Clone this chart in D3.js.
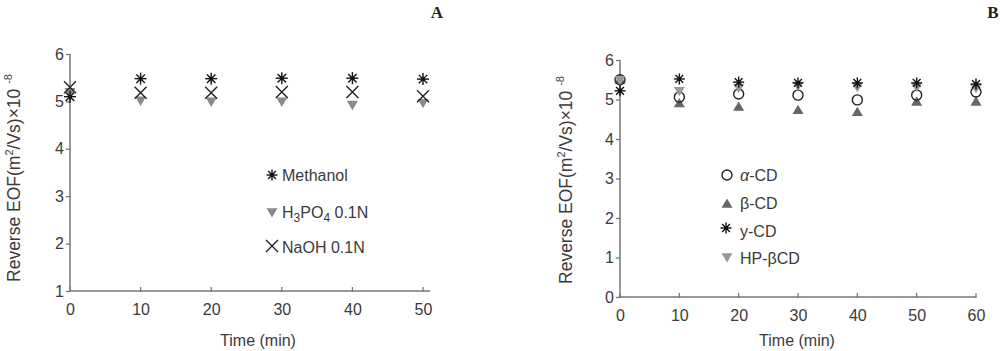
<!DOCTYPE html>
<html><head><meta charset="utf-8">
<script src="https://cdn.jsdelivr.net/npm/d3@7"></script>
<style>body{margin:0;background:#fff}svg{display:block;font-family:"Liberation Sans",Arial,sans-serif}</style>
</head><body><svg id="c" width="1000" height="351"></svg>
<script>
// Panel A data
const timesA = [0, 10, 20, 30, 40, 50];
const methanol = [5.1, 5.48, 5.48, 5.49, 5.49, 5.47];
const h3po4 = [5.2, 5.02, 5.0, 5.0, 4.93, 4.97];
const naoh = [5.3, 5.18, 5.18, 5.2, 5.2, 5.11];
const yTicksA = [1, 2, 3, 4, 5, 6];
const xTicksA = [0, 10, 20, 30, 40, 50];
// Panel B data
const timesB = [0, 10, 20, 30, 40, 50, 60];
const alphaCD = [5.5, 5.06, 5.14, 5.11, 4.99, 5.11, 5.19];
const betaCD = [5.5, 4.9, 4.81, 4.73, 4.68, 4.94, 4.94];
const gammaCD = [5.22, 5.52, 5.44, 5.42, 5.42, 5.42, 5.39];
const hpCD = [5.5, 5.22, 5.3, 5.35, 5.32, 5.32, 5.29];
const yTicksB = [0, 1, 2, 3, 4, 5, 6];
const xTicksB = [0, 10, 20, 30, 40, 50, 60];

const svg = d3.select("#c");
const axisCol = "#777", textCol = "#3a3a3a", grey = "#8a8a8a";

function star(g, x, y, r) {
  const s = g.append("g").attr("transform", `translate(${x},${y})`);
  for (let k = 0; k < 4; k++) {
    const a = k * Math.PI / 4;
    s.append("line").attr("x1", -r * Math.cos(a)).attr("y1", -r * Math.sin(a))
      .attr("x2", r * Math.cos(a)).attr("y2", r * Math.sin(a))
      .attr("stroke", "#111").attr("stroke-width", 1.4);
  }
  s.append("circle").attr("r", 2).attr("fill", "#111");
}
function cross(g, x, y, r) {
  const p = d3.path();
  p.moveTo(x - r, y - r); p.lineTo(x + r, y + r);
  p.moveTo(x + r, y - r); p.lineTo(x - r, y + r);
  g.append("path").attr("d", p.toString()).attr("stroke", "#222").attr("stroke-width", 1.4).attr("fill", "none");
}
function tri(g, x, y, r, down, col) {
  const p = d3.path();
  const s = down ? 1 : -1;
  p.moveTo(x - r, y - s * r * 0.7); p.lineTo(x + r, y - s * r * 0.7); p.lineTo(x, y + s * r); p.closePath();
  g.append("path").attr("d", p.toString()).attr("fill", col);
}
function circ(g, x, y, r) {
  g.append("circle").attr("cx", x).attr("cy", y).attr("r", r).attr("fill", "none").attr("stroke", "#222").attr("stroke-width", 1.4);
}

function axes(x, y, xTicks, yTicks, x0, x1, y0, y1) {
  const g = svg.append("g");
  const gx = g.append("g").attr("transform", `translate(0,${y0})`)
    .call(d3.axisBottom(x).tickValues(xTicks).tickFormat(d3.format("d")).tickSize(0).tickPadding(13));
  gx.select(".domain").remove();
  g.append("line").attr("x1", x0).attr("x2", x1).attr("y1", y0).attr("y2", y0).attr("stroke", axisCol).attr("stroke-width", 1.5);
  xTicks.forEach(t => g.append("line").attr("x1", x(t)).attr("x2", x(t)).attr("y1", y0 - 4).attr("y2", y0 + 1).attr("stroke", axisCol).attr("stroke-width", 1.3));
  const gy = g.append("g").attr("transform", `translate(${x0},0)`)
    .call(d3.axisLeft(y).tickValues(yTicks).tickFormat(d3.format("d")).tickSize(4).tickPadding(2));
  gy.select(".domain").remove();
  gy.selectAll(".tick line").attr("stroke", axisCol).attr("stroke-width", 1.3);
  g.append("line").attr("x1", x0).attr("x2", x0).attr("y1", y1).attr("y2", y0).attr("stroke", axisCol).attr("stroke-width", 1.5);
  g.selectAll(".tick text").attr("font-size", 16).attr("fill", textCol).attr("font-family", "Liberation Sans, Arial, sans-serif");
  return g;
}

function ylabel(x, y) {
  const t = svg.append("text").attr("transform", `translate(${x},${y}) rotate(-90)`)
    .attr("text-anchor", "middle").attr("font-size", 17.5).attr("fill", textCol);
  t.append("tspan").text("Reverse EOF(m");
  t.append("tspan").attr("font-size", 11).attr("dy", -7).text("2");
  t.append("tspan").attr("dy", 7).text("/Vs)×10 ");
  t.append("tspan").attr("font-size", 11).attr("dy", -8).text("-8");
}

// ---- Panel A ----
const xA = d3.scaleLinear().domain([0, 50]).range([70, 423]);
const yA = d3.scaleLinear().domain([1, 6]).range([291, 54]);
axes(xA, yA, xTicksA, yTicksA, 70, 430, 291, 54);
const mA = svg.append("g");
timesA.forEach((t, i) => tri(mA, xA(t), yA(h3po4[i]), 5.5, true, grey));
timesA.forEach((t, i) => cross(mA, xA(t), yA(naoh[i]), 6));
timesA.forEach((t, i) => star(mA, xA(t), yA(methanol[i]), 6));
ylabel(20, 178);
svg.append("text").attr("x", 258).attr("y", 346).attr("text-anchor", "middle").attr("font-size", 16).attr("fill", textCol).text("Time (min)");
svg.append("text").attr("x", 437).attr("y", 18).attr("text-anchor", "middle").attr("font-size", 17).attr("font-weight", "bold").attr("font-family", "Liberation Serif, Times New Roman, serif").attr("fill", "#222").text("A");
// legend A
const lA = svg.append("g");
star(lA, 272, 175, 5.5);
lA.append("text").attr("x", 282).attr("y", 181).attr("font-size", 16).attr("fill", textCol).text("Methanol");
tri(lA, 272, 212, 5.5, true, grey);
const th = lA.append("text").attr("x", 282).attr("y", 218).attr("font-size", 16).attr("fill", textCol);
th.append("tspan").text("H");
th.append("tspan").attr("dy", 4).attr("font-size", 12).text("3");
th.append("tspan").attr("dy", -4).text("PO");
th.append("tspan").attr("dy", 4).attr("font-size", 12).text("4");
th.append("tspan").attr("dy", -4).text(" 0.1N");
cross(lA, 272, 246, 6);
lA.append("text").attr("x", 282).attr("y", 253).attr("font-size", 16).attr("fill", textCol).text("NaOH 0.1N");

// ---- Panel B ----
const xB = d3.scaleLinear().domain([0, 60]).range([620, 976]);
const yB = d3.scaleLinear().domain([0, 6]).range([297, 60]);
axes(xB, yB, xTicksB, yTicksB, 620, 976, 297, 60);
const mB = svg.append("g");
timesB.forEach((t, i) => tri(mB, xB(t), yB(betaCD[i]), 5.5, false, "#666"));
timesB.forEach((t, i) => circ(mB, xB(t), yB(alphaCD[i]), 5));
timesB.forEach((t, i) => tri(mB, xB(t), yB(hpCD[i]), 5.5, true, "#999"));
timesB.forEach((t, i) => star(mB, xB(t), yB(gammaCD[i]), 5.5));
ylabel(572, 180);
svg.append("text").attr("x", 797).attr("y", 346).attr("text-anchor", "middle").attr("font-size", 16).attr("fill", textCol).text("Time (min)");
svg.append("text").attr("x", 993).attr("y", 18).attr("text-anchor", "middle").attr("font-size", 17).attr("font-weight", "bold").attr("font-family", "Liberation Serif, Times New Roman, serif").attr("fill", "#222").text("B");
// legend B
const lB = svg.append("g");
circ(lB, 727, 175, 5);
const ta = lB.append("text").attr("x", 740).attr("y", 181).attr("font-size", 16).attr("fill", textCol);
ta.append("tspan").attr("font-style", "italic").text("α");
ta.append("tspan").text("-CD");
tri(lB, 727, 204, 5.5, false, "#666");
lB.append("text").attr("x", 740).attr("y", 209).attr("font-size", 16).attr("fill", textCol).text("β-CD");
star(lB, 726, 228, 5.5);
lB.append("text").attr("x", 740).attr("y", 237).attr("font-size", 16).attr("fill", textCol).text("y-CD");
tri(lB, 727, 257, 5.5, true, "#999");
lB.append("text").attr("x", 740).attr("y", 264).attr("font-size", 16).attr("fill", textCol).text("HP-βCD");
</script></body></html>
